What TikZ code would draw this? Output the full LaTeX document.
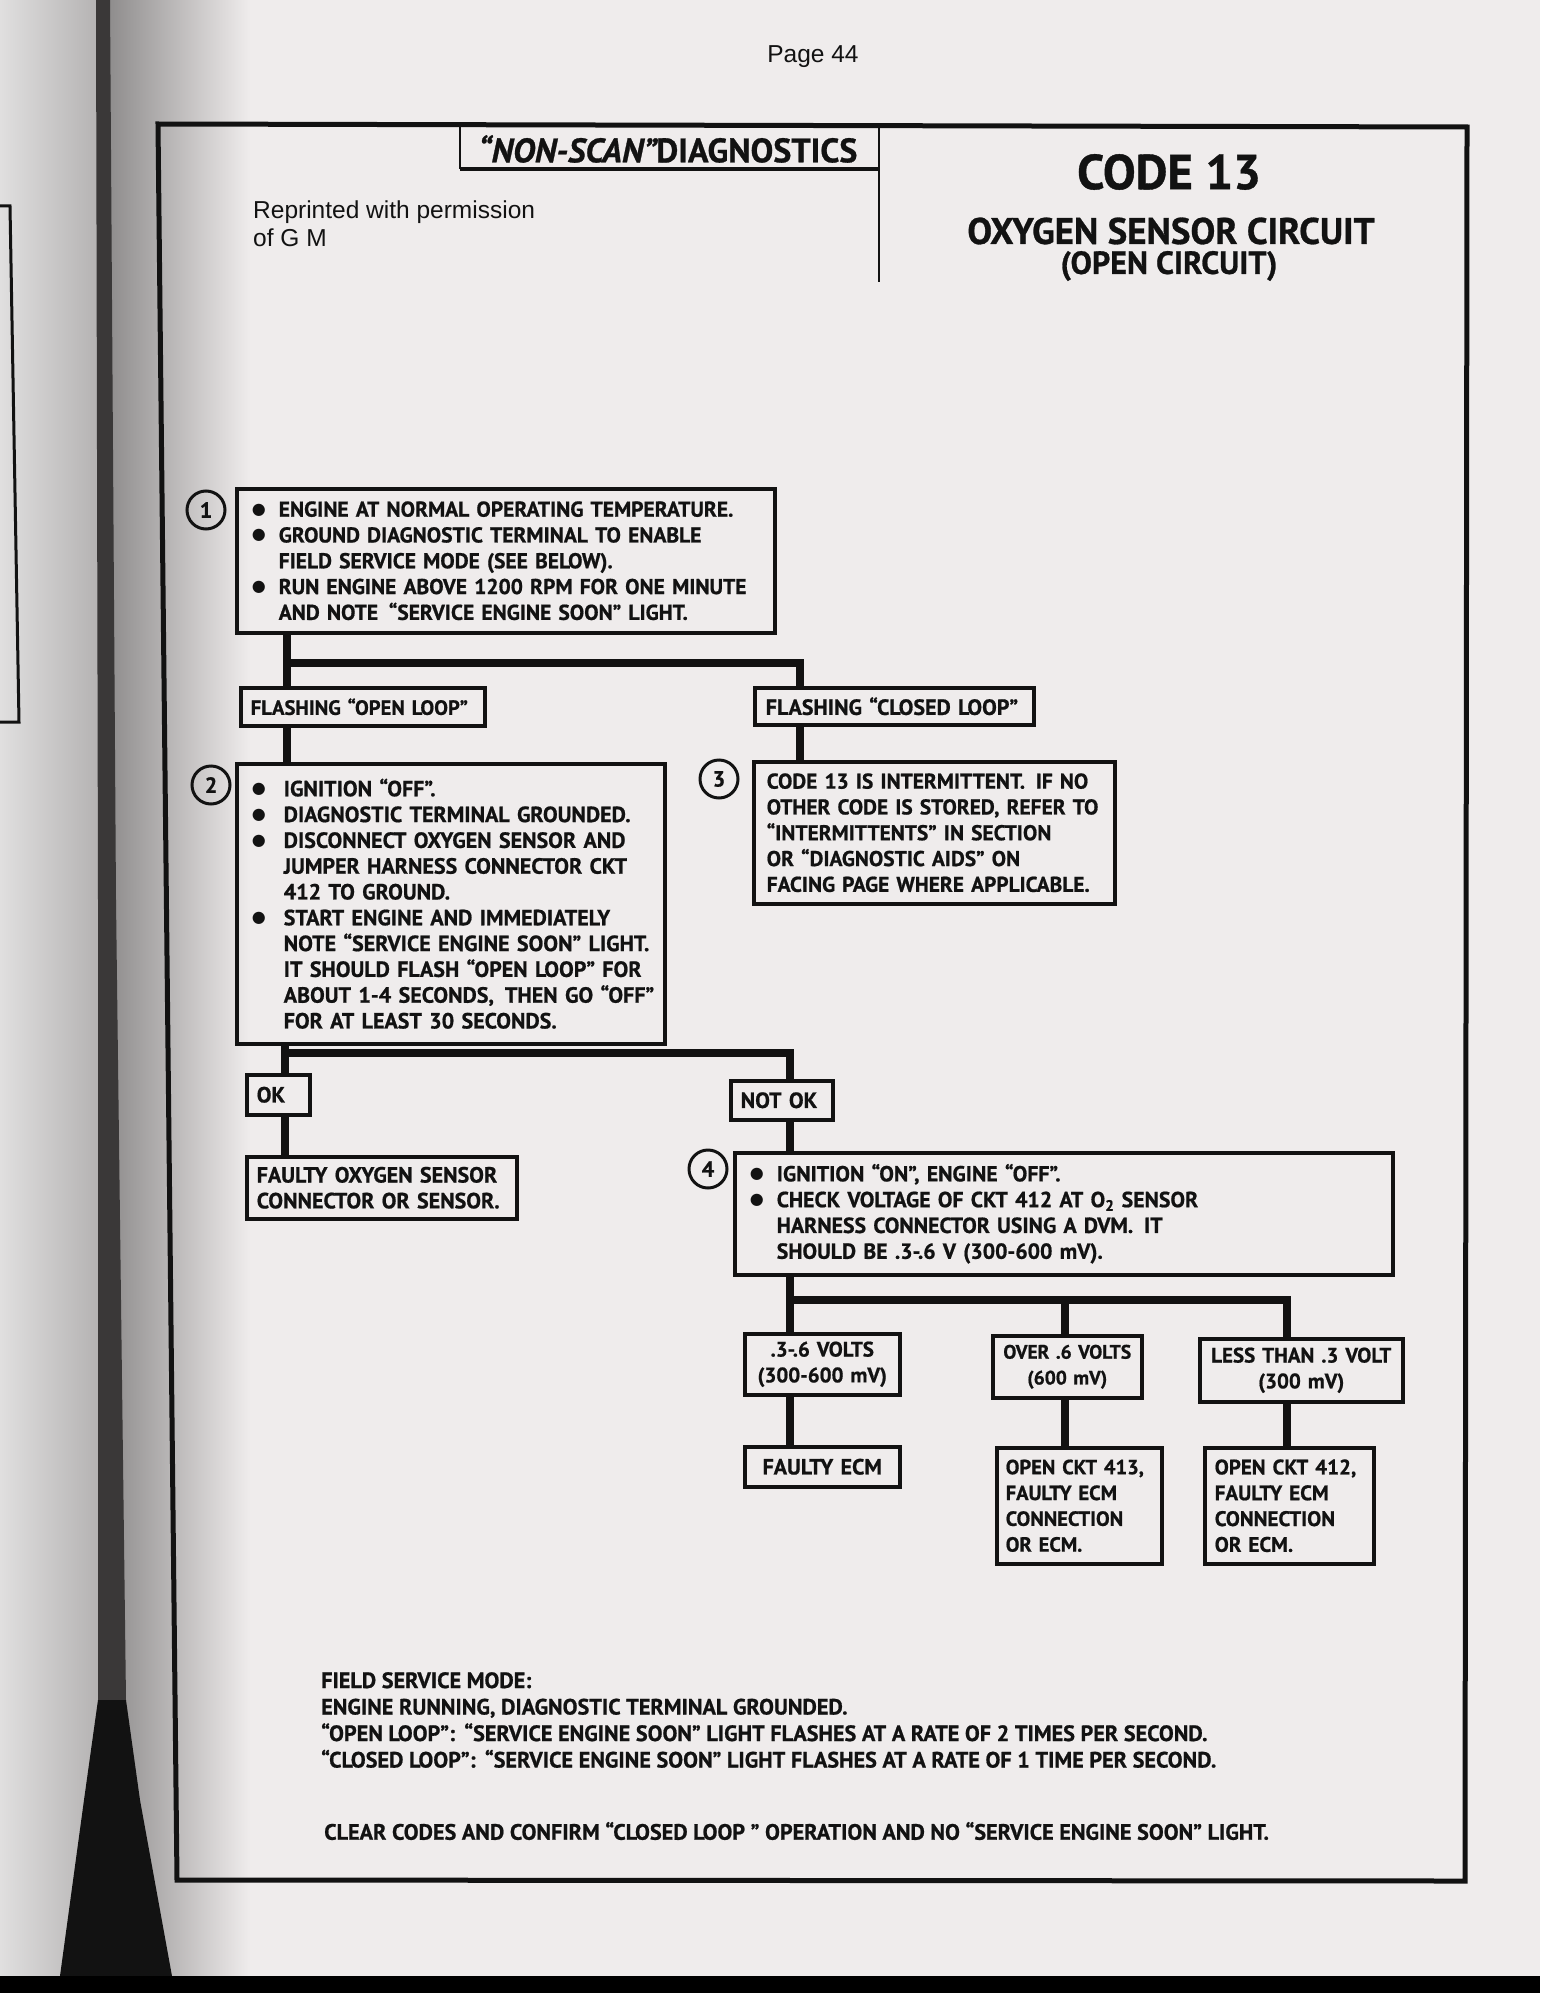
\documentclass[tikz,border=0pt]{standalone}
\usepackage{fontspec}
\newfontfamily\gm{PT Sans}[BoldFeatures={FakeBold=0.8},BoldItalicFeatures={FakeBold=0.8}]
\newfontfamily\arl{Liberation Sans}
\newfontfamily\djv{DejaVu Sans}
\definecolor{paper}{HTML}{EFECEC}
\definecolor{ink}{HTML}{121212}
\definecolor{lpA}{HTML}{E0DFDF}
\definecolor{lpB}{HTML}{B4B2B2}
\definecolor{gutA}{HTML}{8E8C8C}
\definecolor{gutB}{HTML}{3A3838}
\newcommand\dotmark{\raisebox{2.6pt}{\djv\fontsize{16}{16}\selectfont ●}}
\newcommand\bl[2][27pt]{\mbox{\makebox[#1][l]{\dotmark}#2}}
\newcommand\ind[2][27pt]{\mbox{\hspace*{#1}#2}}
\begin{document}
\begin{tikzpicture}[x=1pt,y=-1pt,
  fs/.style={font=\gm\bfseries\fontsize{#1}{25.8}\selectfont},
  box/.style={draw=ink, line width=3.5pt, anchor=north west, inner ysep=0pt, text=ink, fs=22},
  lbox/.style n args={3}{box, minimum width=#1, minimum height=#2, inner xsep=#3, text width=#1-2*#3, align=left},
  cbox/.style n args={2}{box, minimum width=#1, minimum height=#2, inner xsep=4pt, text width=#1-8, align=center},
  conn/.style={draw=ink, line width=7.5pt, line join=miter},
  num/.style={circle, draw=ink, line width=3pt, minimum size=38pt, inner sep=0pt, text=ink, font=\gm\bfseries\fontsize{22}{22}\selectfont},
  plain/.style={inner sep=0pt, text=ink}
]
% ---- page background (scan) ----
\useasboundingbox (0,0) rectangle (1540,1993);
\fill[paper] (0,0) rectangle (1540,1993);
\shade[left color=lpA, right color=lpB] (0,0) rectangle (100,1993);
\shade[left color=gutA, right color=paper] (108,0) rectangle (250,1993);
\fill[gutB] (96,0) -- (110,0) -- (116,900) -- (126,1700) -- (98,1700) -- (98,900) -- cycle;
\fill[ink] (98,1700) -- (126,1700) -- (140,1800) -- (172,1976) -- (60,1976) -- (84,1800) -- cycle;
\draw[ink, line width=3pt] (0,206) -- (10,206) -- (19,722) -- (0,722);
\fill[black] (0,1976) rectangle (1540,1993);

% ---- page number ----
\node[plain, font=\arl\fontsize{24.5}{24.5}\selectfont] (pg) at (813,57) {Page 44};

% ---- frame ----
\draw[ink, line width=5pt, line join=miter] (158,124) -- (1467,127) -- (1465,1881) -- (177,1880) -- cycle;

% ---- header ----
\draw[ink, line width=2.5pt] (460,125) -- (460,169);
\draw[ink, line width=4.5pt] (460,169) -- (879,169);
\draw[ink, line width=2.5pt] (879,126) -- (879,282);
\node[plain, font=\gm\bfseries\fontsize{34}{34}\selectfont] (hdr) at (668,149) {{\itshape “NON-SCAN”}DIAGNOSTICS};

\node[plain, font=\arl\fontsize{24.5}{28}\selectfont, align=left, anchor=west] (rep) at (253,224) {Reprinted with permission\\of G M};

\node[plain, font=\gm\bfseries\fontsize{49}{49}\selectfont] (code) at (1169,172) {CODE 13};
\node[plain, font=\gm\bfseries\fontsize{37}{37}\selectfont] (ttl) at (1171,231) {OXYGEN SENSOR CIRCUIT};
\node[plain, font=\gm\bfseries\fontsize{32}{32}\selectfont] (sub) at (1169,266) {(OPEN CIRCUIT)};

% ---- boxes ----
\node[lbox={538}{144}{15}, fs=21.5] (b1) at (235,487) {%
\bl{ENGINE AT NORMAL OPERATING TEMPERATURE.}\\
\bl{GROUND DIAGNOSTIC TERMINAL TO ENABLE}\\
\ind{FIELD SERVICE MODE (SEE BELOW).}\\
\bl{RUN ENGINE ABOVE 1200 RPM FOR ONE MINUTE}\\
\ind{AND NOTE \,“SERVICE ENGINE SOON” LIGHT.}};
\node[num] (c1) at (206,510) {1};

\node[lbox={244}{38}{10}, fs=20.6] (open) at (239,686) {\mbox{FLASHING “OPEN LOOP”}};
\node[lbox={279}{37}{11}] (closed) at (753,686) {\mbox{FLASHING “CLOSED LOOP”}};

\node[lbox={428}{280}{15}] (b2) at (235,762) {%
\bl[32pt]{IGNITION “OFF”.}\\
\bl[32pt]{DIAGNOSTIC TERMINAL GROUNDED.}\\
\bl[32pt]{DISCONNECT OXYGEN SENSOR AND}\\
\ind[32pt]{JUMPER HARNESS CONNECTOR CKT}\\
\ind[32pt]{412 TO GROUND.}\\
\bl[32pt]{START ENGINE AND IMMEDIATELY}\\
\ind[32pt]{NOTE “SERVICE ENGINE SOON” LIGHT.}\\
\ind[32pt]{IT SHOULD FLASH “OPEN LOOP” FOR}\\
\ind[32pt]{ABOUT 1-4 SECONDS, \,THEN GO “OFF”}\\
\ind[32pt]{FOR AT LEAST 30 SECONDS.}};
\node[num] (c2) at (211,785) {2};

\node[lbox={361}{142}{13}, fs=21.4] (b3) at (752,760) {%
\mbox{CODE 13 IS INTERMITTENT. \,IF NO}\\
\mbox{OTHER CODE IS STORED, REFER TO}\\
\mbox{“INTERMITTENTS” IN SECTION}\\
\mbox{OR “DIAGNOSTIC AIDS” ON}\\
\mbox{FACING PAGE WHERE APPLICABLE.}};
\node[num] (c3) at (719,779) {3};

\node[lbox={63}{40}{10}] (ok) at (245,1073) {\mbox{OK}};
\node[lbox={270}{62}{10}] (fo2) at (245,1155) {\mbox{FAULTY OXYGEN SENSOR}\\\mbox{CONNECTOR OR SENSOR.}};
\node[lbox={102}{39}{10}] (notok) at (729,1079) {\mbox{NOT OK}};

\node[lbox={658}{122}{15}, fs=21.8] (b4) at (733,1151) {%
\bl{IGNITION “ON”, ENGINE “OFF”.}\\
\bl{CHECK VOLTAGE OF CKT 412 AT O\textsubscript{2} SENSOR}\\
\ind{HARNESS CONNECTOR USING A DVM. \,IT}\\
\ind{SHOULD BE .3-.6 V (300-600 mV).}};
\node[num] (c4) at (708,1169) {4};

\node[cbox={155}{61}, fs=21] (v36) at (743,1332) {\mbox{.3-.6 VOLTS}\\\mbox{(300-600 mV)}};
\node[cbox={155}{40}] (fecm) at (743,1445) {\mbox{FAULTY ECM}};
\node[cbox={149}{62}, fs=19.5] (over) at (991,1334) {\mbox{OVER .6 VOLTS}\\\mbox{(600 mV)}};
\node[lbox={165}{116}{9}, fs=20.5] (o413) at (995,1446) {\mbox{OPEN CKT 413,}\\\mbox{FAULTY ECM}\\\mbox{CONNECTION}\\\mbox{OR ECM.}};
\node[cbox={203}{63}, fs=21] (less) at (1198,1337) {\mbox{LESS THAN .3 VOLT}\\\mbox{(300 mV)}};
\node[lbox={169}{116}{10}, fs=21] (o412) at (1203,1446) {\mbox{OPEN CKT 412,}\\\mbox{FAULTY ECM}\\\mbox{CONNECTION}\\\mbox{OR ECM.}};

% ---- connectors ----
\coordinate (j1) at (287,663);
\coordinate (j1r) at (800,663);
\draw[conn] (b1.south -| j1) -- (j1) -- (j1r) -- (j1r |- closed.north);
\draw[conn] (j1) -- (j1 |- open.north);
\draw[conn] (open.south -| j1) -- (j1 |- b2.north);
\draw[conn] (closed.south -| j1r) -- (j1r |- b3.north);

\coordinate (j2) at (285,1053);
\coordinate (j2r) at (790,1053);
\draw[conn] (b2.south -| j2) -- (j2) -- (j2r) -- (j2r |- notok.north);
\draw[conn] (j2) -- (j2 |- ok.north);
\draw[conn] (ok.south -| j2) -- (j2 |- fo2.north);
\draw[conn] (notok.south -| j2r) -- (j2r |- b4.north);

\coordinate (j3) at (790,1300);
\coordinate (j3m) at (1065,1300);
\coordinate (j3r) at (1287,1300);
\draw[conn] (b4.south -| j3) -- (j3) -- (j3r) -- (j3r |- less.north);
\draw[conn] (j3) -- (j3 |- v36.north);
\draw[conn] (j3m) -- (j3m |- over.north);
\draw[conn] (v36.south -| j3) -- (j3 |- fecm.north);
\draw[conn] (over.south -| j3m) -- (j3m |- o413.north);
\draw[conn] (less.south -| j3r) -- (j3r |- o412.north);

% ---- footer ----
\node[plain, anchor=west, align=left, font=\gm\bfseries\fontsize{22.2}{26.5}\selectfont] (fsm) at (321,1720) {%
FIELD SERVICE MODE:\\
ENGINE RUNNING, DIAGNOSTIC TERMINAL GROUNDED.\\
“OPEN LOOP”: \,“SERVICE ENGINE SOON” LIGHT FLASHES AT A RATE OF 2 TIMES PER SECOND.\\
“CLOSED LOOP”: \,“SERVICE ENGINE SOON” LIGHT FLASHES AT A RATE OF 1 TIME PER SECOND.};
\node[plain, anchor=west, font=\gm\bfseries\fontsize{22.2}{26}\selectfont] (clr) at (324,1831) {CLEAR CODES AND CONFIRM “CLOSED LOOP ” OPERATION AND NO “SERVICE ENGINE SOON” LIGHT.};
\end{tikzpicture}
\end{document}
